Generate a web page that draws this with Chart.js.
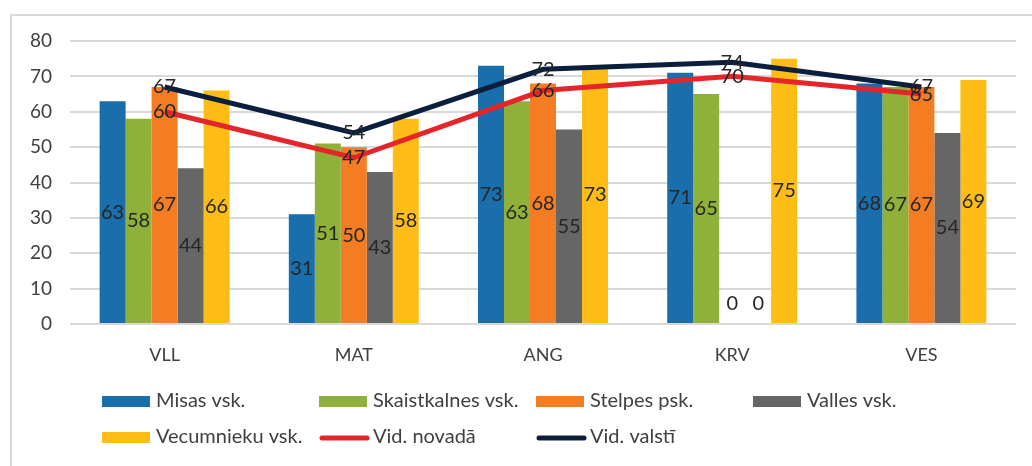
<!DOCTYPE html>
<html>
<head>
<meta charset="utf-8">
<script src="https://cdn.jsdelivr.net/npm/chart.js@4.4.1/dist/chart.umd.min.js"></script>
<style>
  html, body { margin: 0; padding: 0; background: #fff; overflow: hidden; }
  #frame { position: absolute; left: 10px; top: 14px; width: 1040px; height: 480px; border: 2px solid #dadada; box-sizing: border-box; }
  #chart { position: absolute; left: 0; top: 0; }
</style>
</head>
<body>
<div id="frame"></div>
<canvas id="chart" width="1032" height="466"></canvas>
<script>
const categories = ['VLL', 'MAT', 'ANG', 'KRV', 'VES'];
const misas = [63, 31, 73, 71, 68];
const skaistkalnes = [58, 51, 63, 65, 67];
const stelpes = [67, 50, 68, 0, 67];
const valles = [44, 43, 55, 0, 54];
const vecumnieku = [66, 58, 73, 75, 69];
const vidNovada = [60, 47, 66, 70, 65];
const vidValsti = [67, 54, 72, 74, 67];
const yTicks = [0, 10, 20, 30, 40, 50, 60, 70, 80];

const FONT = 'Lato, "Open Sans", sans-serif';

// labels on bars (centre) and on line points
const valueLabels = {
    id: 'valueLabels',
    afterDatasetsDraw(chart) {
        const ctx = chart.ctx;
        ctx.save();
        ctx.font = '20px ' + FONT;
        ctx.fillStyle = '#262626';
        ctx.textAlign = 'center';
        ctx.textBaseline = 'middle';
        chart.data.datasets.forEach((ds, i) => {
            const meta = chart.getDatasetMeta(i);
            meta.data.forEach((el, j) => {
                const v = ds.data[j];
                let y = el.y;
                if (ds.type !== 'line') {
                    y = v === 0 ? el.base - 20 : (el.y + el.base) / 2;
                }
                ctx.fillText(String(v), el.x, y);
            });
        });
        ctx.restore();
    }
};

// excel style legend, 4 columns
const gridLegend = {
    id: 'gridLegend',
    afterDraw(chart) {
        const ctx = chart.ctx;
        ctx.save();
        ctx.font = '20px ' + FONT;
        ctx.textBaseline = 'middle';
        ctx.textAlign = 'left';
        chart.data.datasets.forEach((ds, i) => {
            const x = 102 + (i % 4) * 217;
            const y = 401 + Math.floor(i / 4) * 36;
            if (ds.type === 'line') {
                ctx.strokeStyle = ds.borderColor;
                ctx.lineWidth = 5;
                ctx.lineCap = 'round';
                ctx.beginPath();
                ctx.moveTo(x + 3, y + 1);
                ctx.lineTo(x + 48, y + 1);
                ctx.stroke();
            } else {
                ctx.fillStyle = ds.backgroundColor;
                ctx.fillRect(x, y - 5, 48, 11);
            }
            ctx.fillStyle = '#404040';
            ctx.fillText(ds.label, x + 54, y);
        });
        ctx.restore();
    }
};

const barDs = (label, data, color) => ({
    type: 'bar',
    label: label,
    data: data,
    backgroundColor: color,
    borderWidth: 0,
    barPercentage: 1.0,
    categoryPercentage: 0.687,
    order: 1
});

const lineDs = (label, data, color, order) => ({
    type: 'line',
    label: label,
    data: data,
    borderColor: color,
    backgroundColor: color,
    borderWidth: 5,
    pointRadius: 0,
    tension: 0,
    fill: false,
    order: order
});

const ctx = document.getElementById('chart').getContext('2d');
new Chart(ctx, {
    data: {
        labels: categories,
        datasets: [
            barDs('Misas vsk.', misas, '#1a6eab'),
            barDs('Skaistkalnes vsk.', skaistkalnes, '#8fb13a'),
            barDs('Stelpes psk.', stelpes, '#f47c22'),
            barDs('Valles vsk.', valles, '#666666'),
            barDs('Vecumnieku vsk.', vecumnieku, '#fdbd16'),
            lineDs('Vid. novadā', vidNovada, '#e4262a', -1),
            lineDs('Vid. valstī', vidValsti, '#0c1e3e', -2)
        ]
    },
    options: {
        responsive: false,
        animation: false,
        layout: {
            padding: { left: 0, top: 41, right: 16, bottom: 0 }
        },
        plugins: {
            legend: { display: false },
            tooltip: { enabled: false }
        },
        scales: {
            x: {
                grid: { display: false, drawTicks: false },
                border: { display: false },
                ticks: {
                    color: '#404040',
                    font: { family: FONT, size: 18 },
                    padding: 20
                },
                afterFit(scale) { scale.height = 142; }
            },
            y: {
                min: 0,
                max: 80,
                afterBuildTicks(scale) { scale.ticks = yTicks.map(v => ({ value: v })); },
                grid: { color: '#d9d9d9', lineWidth: 2, drawTicks: false },
                border: { display: false },
                ticks: {
                    color: '#404040',
                    font: { family: FONT, size: 19 },
                    padding: 18
                },
                afterFit(scale) { scale.width = 70; }
            }
        }
    },
    plugins: [valueLabels, gridLegend]
});
</script>
</body>
</html>
